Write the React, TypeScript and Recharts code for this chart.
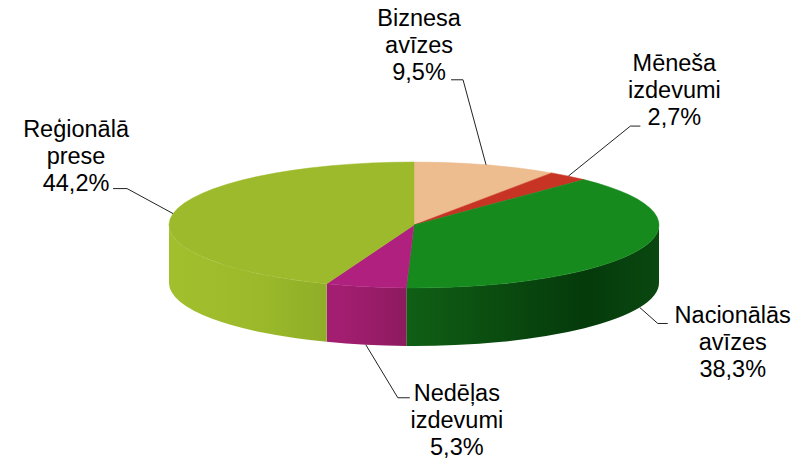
import React from 'react';
import { PieChart, Pie } from 'recharts';

// ---- data ----
const categories = ['Biznesa avīzes', 'Mēneša izdevumi', 'Nacionālās avīzes', 'Nedēļas izdevumi', 'Reģionālā prese'];
const labelLines = [
  ['Biznesa', 'avīzes'],
  ['Mēneša', 'izdevumi'],
  ['Nacionālās', 'avīzes'],
  ['Nedēļas', 'izdevumi'],
  ['Reģionālā', 'prese'],
];
const shares = [9.5, 2.7, 38.3, 5.3, 44.2];

const data = categories.map((name, i) => ({ name, value: shares[i] }));

// ---- styles / layout ----
const W = 803;
const H = 460;
const CX = 414;
const CY = 225;
const R = 245;
const TILT = 63 / 245;
const DEPTH = 58;
const RAD = Math.PI / 180;

const TOP_COLORS = ['#EDBC8F', '#C83424', '#178A1E', '#B0207E', '#9CBA2B'];
const SIDE_STOPS: [number, string][][] = [
  [[0, '#D4A77E'], [1, '#B8906A']],
  [[0, '#B02E20'], [1, '#9A2618']],
  [[0, '#105F15'], [0.49, '#105F15'], [0.65, '#0B4E10'], [0.85, '#053A0B'], [1, '#0A4810']],
  [[0, '#A31E70'], [0.35, '#A31E70'], [0.49, '#8C1A5F'], [1, '#8C1A5F']],
  [[0, '#A2C02D'], [0.2, '#9AB82A'], [0.35, '#8DAB27'], [1, '#8DAB27']],
];
const LABEL_LAYOUT = [
  { elbow: [-23, -85], tail: -12, text: [-67, -139] },
  { elbow: [62, -50], tail: 10, text: [106, -105] },
  { elbow: [18, 16], tail: 10, text: [93, 16] },
  { elbow: [32, 53], tail: 12, text: [91, 56] },
  { elbow: [-46, -25], tail: -14, text: [-97, -77] },
];
const FONT = '"Liberation Sans", Arial, sans-serif';
const FONT_SIZE = 23.5;
const LINE_H = 27;

const fmtPct = (v: number) => v.toFixed(1).replace('.', ',') + '%';

const renderSlice = (props: any) => {
  const { cx, cy, outerRadius, startAngle, endAngle, midAngle, index, value } = props;
  const rx = outerRadius;
  const ry = outerRadius * TILT;
  // clockwise degrees from 12 o'clock
  const t1 = 90 - startAngle;
  const t2 = 90 - endAngle;
  const tm = 90 - midAngle;
  const pt = (th: number, dy = 0) => [cx + rx * Math.sin(th * RAD), cy - ry * Math.cos(th * RAD) + dy];
  const color = TOP_COLORS[index % TOP_COLORS.length];
  const gid = `side-grad-${index}`;

  // top face
  const a = pt(t1);
  const b = pt(t2);
  const large = Math.abs(t2 - t1) > 180 ? 1 : 0;
  const topPath = `M${cx},${cy} L${a[0]},${a[1]} A${rx},${ry} 0 ${large} 1 ${b[0]},${b[1]} Z`;

  // side wall (front half only: 90..270)
  const s = Math.max(t1, 90);
  const e = Math.min(t2, 270);
  let sidePath = '';
  if (s < e) {
    const p1 = pt(s);
    const p2 = pt(e);
    const q2 = pt(e, DEPTH);
    const q1 = pt(s, DEPTH);
    sidePath = `M${p1[0]},${p1[1]} A${rx},${ry} 0 0 1 ${p2[0]},${p2[1]} L${q2[0]},${q2[1]} A${rx},${ry} 0 0 0 ${q1[0]},${q1[1]} Z`;
  }

  // leader line anchor
  const front = Math.cos(tm * RAD) < 0;
  const anchor = pt(tm, front ? DEPTH : 0);
  const lay = LABEL_LAYOUT[index];
  const elbow = [anchor[0] + lay.elbow[0], anchor[1] + lay.elbow[1]];
  const tail = [elbow[0] + lay.tail, elbow[1]];
  const tx = anchor[0] + lay.text[0];
  const ty = anchor[1] + lay.text[1];
  const lines = [...labelLines[index], fmtPct(value)];

  return (
    <g key={`slice-${index}`}>
      <defs>
        <linearGradient id={gid} gradientUnits="userSpaceOnUse" x1={cx - rx} y1={0} x2={cx + rx} y2={0}>
          {SIDE_STOPS[index].map(([o, c], k) => (
            <stop key={k} offset={o} stopColor={c} />
          ))}
        </linearGradient>
      </defs>
      {sidePath && <path d={sidePath} fill={`url(#${gid})`} stroke="none" />}
      <path d={topPath} fill={color} stroke={color} strokeWidth={0.5} />
      <polyline
        points={`${anchor[0]},${anchor[1]} ${elbow[0]},${elbow[1]} ${tail[0]},${tail[1]}`}
        fill="none"
        stroke="#222"
        strokeWidth={1}
      />
      {lines.map((l, k) => (
        <text
          key={k}
          x={tx}
          y={ty + k * LINE_H}
          textAnchor="middle"
          fontFamily={FONT}
          fontSize={FONT_SIZE}
          fill="#000"
        >
          {l}
        </text>
      ))}
    </g>
  );
};

export default function App() {
  return (
    <div style={{ width: W, height: H, background: '#fff' }}>
      <style>{'body{margin:0;}'}</style>
      <PieChart width={W} height={H} margin={{ top: 0, right: 0, bottom: 0, left: 0 }}>
        <Pie
          data={data}
          dataKey="value"
          nameKey="name"
          cx={CX}
          cy={CY}
          outerRadius={R}
          startAngle={90}
          endAngle={-270}
          fill="none"
          stroke="none"
          isAnimationActive={false}
          label={renderSlice}
          labelLine={false}
        />
      </PieChart>
    </div>
  );
}
